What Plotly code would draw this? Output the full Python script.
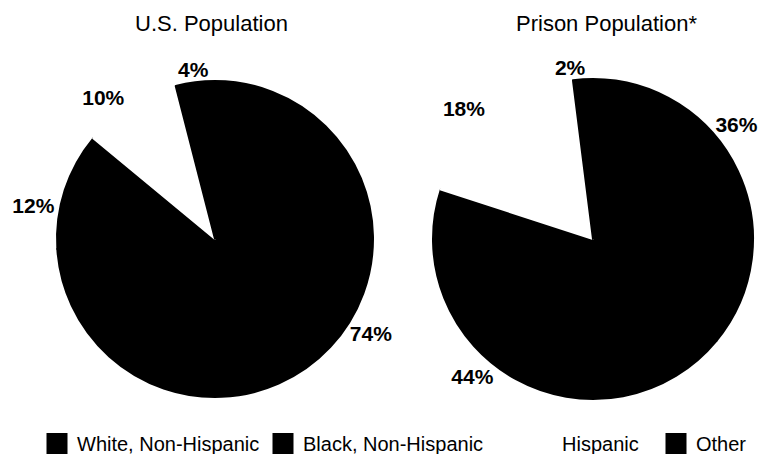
import plotly.graph_objects as go

categories = ["White, Non-Hispanic", "Black, Non-Hispanic", "Hispanic", "Other"]
us_values = [74, 12, 10, 4]
prison_values = [36, 44, 18, 2]
titles = ["U.S. Population", "Prison Population*"]
colors = ["#000000", "#000000", "#ffffff", "#000000"]

W, H = 761, 454
FONT = "Liberation Sans, Arial"

def dom(cx, cy, r):
    return dict(x=[(cx - r) / W, (cx + r) / W], y=[(H - cy - r) / H, (H - cy + r) / H])

# layout/style settings per pie (label_rot: rotation of the pie that carries each slice's label)
charts = [
    dict(values=us_values, title=titles[0], cx=215, cy=239, r=158, title_x=212,
         label_rot=[-8, -6, 0, 7]),
    dict(values=prison_values, title=titles[1], cx=593, cy=239, r=160, title_x=606,
         label_rot=[-18, 7, 0, 3]),
]

label_font = dict(family=FONT, size=21, color="#000", weight="bold")

fig = go.Figure()
for ch in charts:
    d = dom(ch["cx"], ch["cy"], ch["r"])
    fig.add_trace(go.Pie(
        labels=categories, values=ch["values"], sort=False, direction="clockwise", rotation=0,
        marker=dict(colors=colors, line=dict(color=colors, width=2)),
        textposition=["outside" if lr == 0 else "none" for lr in ch["label_rot"]],
        texttemplate="%{value}%", outsidetextfont=label_font,
        hoverinfo="label+percent", domain=d, showlegend=False,
    ))
    for rot in sorted(set(ch["label_rot"]) - {0}):
        fig.add_trace(go.Pie(
            labels=categories, values=ch["values"], sort=False, direction="clockwise", rotation=rot,
            marker=dict(colors=["rgba(0,0,0,0)"] * len(categories), line=dict(width=0)),
            textposition=["outside" if lr == rot else "none" for lr in ch["label_rot"]],
            texttemplate="%{value}%", outsidetextfont=label_font,
            hoverinfo="skip", domain=d, showlegend=False,
        ))
    fig.add_annotation(text=ch["title"], x=ch["title_x"] / W, y=1 - 24 / H, xref="paper", yref="paper",
                       xanchor="center", yanchor="middle",
                       showarrow=False, font=dict(family=FONT, size=22, color="#000"))

# legend entries (one legend box per entry so spacing can follow the reference)
legend_text_x = [77, 303, 562, 696]
legend_names = ["legend", "legend2", "legend3", "legend4"]
for name, col, lg in zip(categories, colors, legend_names):
    fig.add_trace(go.Scatter(
        x=[None], y=[None], mode="markers", name=name, legend=lg, showlegend=True,
        marker=dict(symbol="square", size=16, color=col, line=dict(color=col, width=5)),
        hoverinfo="skip",
    ))

layout_legends = {}
for lg, tx in zip(legend_names, legend_text_x):
    layout_legends[lg] = dict(orientation="h", x=(tx - 40) / W, xanchor="left",
                              y=1 - 424 / H, yanchor="top", bgcolor="rgba(0,0,0,0)",
                              font=dict(family=FONT, size=20, color="#000"),
                              itemclick=False, itemdoubleclick=False)

fig.update_layout(
    width=W, height=H, margin=dict(l=0, r=0, t=0, b=0, autoexpand=False),
    paper_bgcolor="white", plot_bgcolor="white",
    xaxis=dict(visible=False), yaxis=dict(visible=False),
    **layout_legends,
)
fig.write_html("out.html")
